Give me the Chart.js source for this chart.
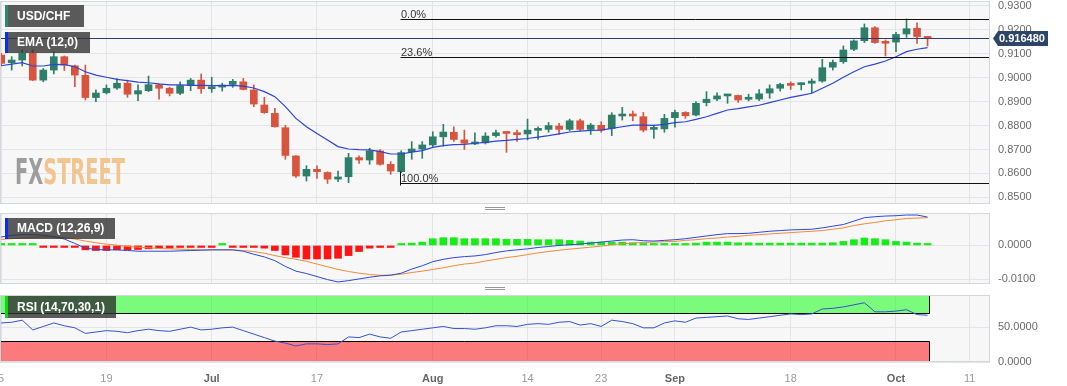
<!DOCTYPE html>
<html>
<head>
<meta charset="utf-8">
<title>USD/CHF</title>
<script src="https://cdn.jsdelivr.net/npm/chart.js"></script>
<style>
  body { margin: 0; background: #fff; }
  #wrap { position: relative; width: 1067px; height: 386px; overflow: hidden; font-family: "Liberation Sans", Arial, sans-serif; }
  #wrap canvas { position: absolute; left: 0; top: 0; }
  .tag { position: absolute; left: 5px; height: 21px; line-height: 21px; padding-left: 9px; box-sizing: border-box;
         background: rgba(50, 50, 50, 0.8); color: #fff; font-size: 12px; font-weight: bold; white-space: nowrap; }
  .grip { position: absolute; left: 485px; width: 20px; height: 1px; border-top: 1px solid #999; border-bottom: 1px solid #999; }
  #logo { position: absolute; left: 15px; top: 154px; font: bold 36px "Liberation Sans Narrow", "DejaVu Sans Condensed", sans-serif;
          line-height: 36px; white-space: nowrap; transform-origin: 0 0; }
</style>
</head>
<body>
<div id="wrap">
  <canvas id="main" width="1067" height="386"></canvas>
  <canvas id="macd" width="1067" height="386"></canvas>
  <canvas id="rsi" width="1067" height="386"></canvas>
  <div id="logo"><span style="color:#9d9d9d">FX</span><span style="color:#f2c48f">STREET</span></div>
  <div class="tag" style="top:5px;width:79px;height:22px;line-height:22px;border-left:3px solid #2b8a70">USD/CHF</div>
  <div class="tag" style="top:32px;width:85px;border-left:3px solid #0b2df2">EMA (12,0)</div>
  <div class="tag" style="top:218px;width:110px;border-left:3px solid #0b2df2">MACD (12,26,9)</div>
  <div class="tag" style="top:296px;width:111px;height:22px;line-height:22px;border-left:3px solid #10d810">RSI (14,70,30,1)</div>
  <div class="grip" style="top:207px"></div>
  <div class="grip" style="top:287px"></div>
</div>
<script>
// one entry per trading day, index 0 = Jun 5
const opens = [0.9095, 0.9063, 0.9074, 0.9102, 0.8990, 0.9032, 0.9088, 0.9050, 0.9010, 0.8917,
  0.8937, 0.8957, 0.8977, 0.8932, 0.8946, 0.8970, 0.8956, 0.8935, 0.8968, 0.8990,
  0.8954, 0.8961, 0.8972, 0.8983, 0.8949, 0.8886, 0.8851, 0.8791, 0.8673, 0.8589,
  0.8617, 0.8604, 0.8576, 0.8586, 0.8666, 0.8656, 0.8694, 0.8638, 0.8607, 0.8691,
  0.8702, 0.8719, 0.8753, 0.8772, 0.8740, 0.8723, 0.8728, 0.8758, 0.8772, 0.8766,
  0.8765, 0.8780, 0.8784, 0.8798, 0.8784, 0.8820, 0.8784, 0.8801, 0.8788, 0.8840,
  0.8845, 0.8837, 0.8784, 0.8786, 0.8833, 0.8855, 0.8844, 0.8896, 0.8911, 0.8924,
  0.8926, 0.8910, 0.8911, 0.8936, 0.8956, 0.8972, 0.8971, 0.8977, 0.8986, 0.9044,
  0.9067, 0.9119, 0.9155, 0.9209, 0.9148, 0.9149, 0.9183, 0.9207, 0.9169];
const highs = [0.9102, 0.9088, 0.9116, 0.9116, 0.9039, 0.9109, 0.9091, 0.9053, 0.9053, 0.8949,
  0.8970, 0.8997, 0.8990, 0.8970, 0.9007, 0.8974, 0.8960, 0.8983, 0.8997, 0.9016,
  0.9002, 0.8977, 0.8993, 0.8997, 0.8970, 0.8918, 0.8872, 0.8801, 0.8675, 0.8632,
  0.8632, 0.8607, 0.8610, 0.8684, 0.8673, 0.8705, 0.8700, 0.8649, 0.8695, 0.8733,
  0.8733, 0.8774, 0.8805, 0.8795, 0.8781, 0.8770, 0.8770, 0.8781, 0.8774, 0.8781,
  0.8827, 0.8795, 0.8813, 0.8809, 0.8827, 0.8827, 0.8809, 0.8816, 0.8854, 0.8876,
  0.8861, 0.8855, 0.8802, 0.8847, 0.8865, 0.8858, 0.8900, 0.8942, 0.8937, 0.8928,
  0.8928, 0.8931, 0.8951, 0.8970, 0.8977, 0.8983, 0.8979, 0.8995, 0.9077, 0.9074,
  0.9133, 0.9158, 0.9225, 0.9214, 0.9158, 0.9190, 0.9246, 0.9230, 0.9172];
const lows = [0.9053, 0.9032, 0.9049, 0.8988, 0.8983, 0.9016, 0.9030, 0.8963, 0.8907, 0.8900,
  0.8932, 0.8951, 0.8918, 0.8904, 0.8942, 0.8910, 0.8924, 0.8929, 0.8946, 0.8935,
  0.8939, 0.8944, 0.8960, 0.8949, 0.8879, 0.8851, 0.8793, 0.8659, 0.8583, 0.8568,
  0.8579, 0.8558, 0.8565, 0.8561, 0.8642, 0.8638, 0.8634, 0.8596, 0.8603, 0.8659,
  0.8663, 0.8712, 0.8714, 0.8734, 0.8700, 0.8720, 0.8723, 0.8751, 0.8688, 0.8734,
  0.8740, 0.8742, 0.8772, 0.8763, 0.8779, 0.8779, 0.8763, 0.8772, 0.8758, 0.8823,
  0.8820, 0.8774, 0.8746, 0.8772, 0.8793, 0.8830, 0.8840, 0.8882, 0.8904, 0.8893,
  0.8897, 0.8903, 0.8904, 0.8914, 0.8944, 0.8951, 0.8949, 0.8937, 0.8981, 0.9032,
  0.9060, 0.9113, 0.9147, 0.9144, 0.9091, 0.9109, 0.9169, 0.9144, 0.9133];
const closes = [0.9060, 0.9074, 0.9102, 0.8990, 0.9032, 0.9088, 0.9053, 0.9011, 0.8917, 0.8936,
  0.8956, 0.8977, 0.8931, 0.8946, 0.8971, 0.8956, 0.8935, 0.8967, 0.8990, 0.8954,
  0.8960, 0.8968, 0.8985, 0.8951, 0.8890, 0.8854, 0.8795, 0.8675, 0.8589, 0.8617,
  0.8607, 0.8576, 0.8585, 0.8666, 0.8656, 0.8694, 0.8638, 0.8610, 0.8687, 0.8702,
  0.8719, 0.8753, 0.8773, 0.8742, 0.8726, 0.8728, 0.8756, 0.8770, 0.8767, 0.8762,
  0.8781, 0.8784, 0.8800, 0.8784, 0.8820, 0.8784, 0.8802, 0.8781, 0.8844, 0.8844,
  0.8840, 0.8781, 0.8791, 0.8830, 0.8855, 0.8841, 0.8893, 0.8910, 0.8924, 0.8926,
  0.8907, 0.8912, 0.8933, 0.8954, 0.8972, 0.8968, 0.8974, 0.8986, 0.9042, 0.9064,
  0.9116, 0.9154, 0.9209, 0.9147, 0.9144, 0.9181, 0.9205, 0.9172, 0.91648];
const ema = [0.9050, 0.9057, 0.9063, 0.9049, 0.9049, 0.9056, 0.9055, 0.9046, 0.9025, 0.9011,
  0.9002, 0.8993, 0.8988, 0.8982, 0.8979, 0.8974, 0.8970, 0.8970, 0.8968, 0.8968,
  0.8967, 0.8967, 0.8968, 0.8965, 0.8957, 0.8942, 0.8921, 0.8879, 0.8830, 0.8795,
  0.8767, 0.8740, 0.8712, 0.8702, 0.8699, 0.8698, 0.8691, 0.8681, 0.8681, 0.8689,
  0.8695, 0.8709, 0.8716, 0.8720, 0.8721, 0.8726, 0.8730, 0.8735, 0.8738, 0.8742,
  0.8746, 0.8752, 0.8758, 0.8765, 0.8773, 0.8777, 0.8780, 0.8781, 0.8788, 0.8795,
  0.8802, 0.8802, 0.8801, 0.8805, 0.8812, 0.8816, 0.8826, 0.8837, 0.8851, 0.8865,
  0.8871, 0.8878, 0.8885, 0.8896, 0.8907, 0.8918, 0.8926, 0.8935, 0.8956, 0.8977,
  0.9002, 0.9025, 0.9046, 0.9057, 0.9070, 0.9088, 0.9109, 0.9119, 0.9126];
const macd = [0.0025, 0.0030, 0.0032, 0.0032, 0.0030, 0.0026, 0.0019, 0.0006, -0.0008, -0.0012,
  -0.0013, -0.0013, -0.0015, -0.0017, -0.0017, -0.0017, -0.0017, -0.0016, -0.0015, -0.0014,
  -0.0013, -0.0013, -0.0013, -0.0017, -0.0026, -0.0034, -0.0045, -0.0062, -0.0076, -0.0083,
  -0.0092, -0.0101, -0.0108, -0.0104, -0.0099, -0.0094, -0.0090, -0.0088, -0.0082, -0.0070,
  -0.0060, -0.0048, -0.0041, -0.0036, -0.0033, -0.0031, -0.0027, -0.0021, -0.0016, -0.0013,
  -0.0010, -0.0006, -0.0003, 0.0000, 0.0002, 0.0004, 0.0007, 0.0010, 0.0013, 0.0016,
  0.0017, 0.0014, 0.0013, 0.0015, 0.0017, 0.0020, 0.0024, 0.0028, 0.0032, 0.0035,
  0.0035, 0.0036, 0.0039, 0.0042, 0.0044, 0.0046, 0.0047, 0.0048, 0.0052, 0.0057,
  0.0062, 0.0072, 0.0082, 0.0085, 0.0087, 0.0088, 0.0090, 0.0090, 0.0084];
const signal = [0.0018, 0.0020, 0.0022, 0.0024, 0.0025, 0.0025, 0.0023, 0.0019, 0.0013, 0.0008,
  0.0004, 0.0001, -0.0003, -0.0005, -0.0007, -0.0009, -0.0010, -0.0011, -0.0012, -0.0013,
  -0.0013, -0.0013, -0.0013, -0.0015, -0.0018, -0.0023, -0.0030, -0.0036, -0.0041, -0.0047,
  -0.0055, -0.0063, -0.0071, -0.0077, -0.0082, -0.0086, -0.0088, -0.0088, -0.0085, -0.0080,
  -0.0076, -0.0071, -0.0066, -0.0060, -0.0055, -0.0052, -0.0046, -0.0041, -0.0036, -0.0032,
  -0.0027, -0.0022, -0.0018, -0.0014, -0.0011, -0.0008, -0.0005, -0.0002, 0.0002, 0.0005,
  0.0007, 0.0009, 0.0010, 0.0011, 0.0012, 0.0015, 0.0017, 0.0020, 0.0022, 0.0025,
  0.0027, 0.0030, 0.0032, 0.0034, 0.0036, 0.0038, 0.0040, 0.0042, 0.0044, 0.0048,
  0.0052, 0.0059, 0.0064, 0.0068, 0.0073, 0.0076, 0.0080, 0.0081, 0.0082];
const hist = [0.0003, 0.0003, 0.0003, 0.0001, -0.0001, -0.0001, -0.0001, -0.0003, -0.0013, -0.0015,
  -0.0015, -0.0013, -0.0013, -0.0012, -0.0010, -0.0008, -0.0008, -0.0006, -0.0005, -0.0004,
  -0.0003, 0.0001, -0.0001, -0.0002, -0.0005, -0.0008, -0.0015, -0.0028, -0.0035, -0.0040,
  -0.0040, -0.0040, -0.0038, -0.0030, -0.0018, -0.0008, -0.0006, -0.0002, 0.0001, 0.0007,
  0.0010, 0.0020, 0.0023, 0.0023, 0.0020, 0.0020, 0.0020, 0.0020, 0.0018, 0.0018,
  0.0018, 0.0017, 0.0017, 0.0017, 0.0015, 0.0013, 0.0010, 0.0010, 0.0010, 0.0010,
  0.0008, 0.0005, 0.0003, 0.0003, 0.0003, 0.0005, 0.0007, 0.0010, 0.0010, 0.0010,
  0.0008, 0.0008, 0.0007, 0.0007, 0.0007, 0.0007, 0.0007, 0.0007, 0.0007, 0.0008,
  0.0012, 0.0017, 0.0022, 0.0020, 0.0017, 0.0012, 0.0010, 0.0007, 0.0003];
const rsi = [56, 57, 60, 46, 51, 56, 52, 49, 41, 43,
  45, 44, 42, 45, 47, 45, 44, 47, 50, 46,
  47, 49, 50, 45, 40, 35, 30, 27, 23, 26,
  26, 25, 26, 36, 35, 40, 36, 34, 43, 45,
  47, 49, 51, 48, 48, 47, 49, 52, 52, 51,
  54, 55, 54, 57, 58, 53, 55, 51, 60, 58,
  55, 49, 49, 56, 59, 57, 63, 64, 65, 66,
  62, 61, 63, 65, 67, 69, 68, 69, 76, 77,
  79, 82, 85, 72, 72, 73, 75, 68, 67];

// date axis: trading-day index -> label
const tickIdx = [0, 10, 20, 30, 41, 50, 57, 64, 75, 85, 92];
const tickLabels = ['5', '19', 'Jul', '17', 'Aug', '14', '23', 'Sep', '18', 'Oct', '11'];
const months = ['Jul', 'Aug', 'Sep', 'Oct'];

// fibonacci retracement drawn from the July low to the October high
const fibHigh = 0.9247;
const fibLow = 0.8560;
const fibRatios = [0, 0.236, 1];
const fibStart = 37.9;
const rsiUpper = 70, rsiLower = 30;
const lastPrice = closes[closes.length - 1];

const GREEN = '#2e7f69', RED = '#d8543f';
const FONT = '"Liberation Sans", Arial, sans-serif';
const GRID = '#e3e4e8';
const AXIS_W = 77;

const idx = closes.map((c, i) => i);
const candleColor = closes.map((c, i) => c >= opens[i] ? GREEN : RED);
const histColor = hist.map(v => v >= 0 ? '#14ee14' : '#ff1414');
const pts = arr => arr.map((v, i) => ({ x: i, y: v }));

function xAxis(showLabels) {
    return {
        type: 'linear', min: -0.11, max: 93.93, offset: false,
        grid: { color: GRID, drawTicks: false, offset: false },
        border: { display: false },
        afterBuildTicks: s => { s.ticks = tickIdx.map(v => ({ value: v })); },
        ticks: {
            display: showLabels, padding: 10, autoSkip: false, maxRotation: 0,
            callback: (v, i) => tickLabels[i],
            color: c => months.includes(tickLabels[c.index]) ? '#666' : '#9a9a9a',
            font: c => ({ family: FONT, size: 11, weight: months.includes(tickLabels[c.index]) ? 'bold' : 'normal' })
        },
        afterFit: s => { s.height = showLabels ? 24 : 0; s.paddingLeft = 0; s.paddingRight = 0; }
    };
}

function yAxis(min, max, ticks) {
    return {
        position: 'right', min: min, max: max,
        grid: { color: GRID, drawTicks: false },
        border: { display: false },
        afterBuildTicks: s => { s.ticks = ticks.map(v => ({ value: v })); },
        ticks: { padding: 8, color: '#6b6b6b', font: { family: FONT, size: 11 }, callback: v => v.toFixed(4) },
        afterFit: s => { s.width = AXIS_W; s.paddingTop = 0; s.paddingBottom = 0; }
    };
}

function options(padTop, padBottom, y, showLabels) {
    return {
        responsive: false, animation: false, events: [], devicePixelRatio: 1,
        layout: { padding: { top: padTop, bottom: padBottom, left: 0, right: 0 } },
        plugins: { legend: { display: false }, tooltip: { enabled: false } },
        scales: { x: xAxis(showLabels), y: y }
    };
}

// plot background and frame
const panel = {
    id: 'panel',
    beforeDraw(chart) {
        const a = chart.chartArea, ctx = chart.ctx;
        ctx.save();
        ctx.fillStyle = '#f7f7f8';
        ctx.fillRect(a.left, a.top, a.right - a.left, a.bottom - a.top);
        ctx.restore();
    },
    afterDraw(chart) {
        const a = chart.chartArea, ctx = chart.ctx;
        ctx.save();
        ctx.strokeStyle = '#d3d7de';
        ctx.lineWidth = 1;
        ctx.strokeRect(a.left + 0.5, a.top + 0.5, a.right - a.left - 1, a.bottom - a.top - 1);
        ctx.restore();
    }
};

// fibonacci levels, current price line and price tag
const levels = {
    id: 'levels',
    afterDatasetsDraw(chart) {
        const { ctx, chartArea: a, scales: { x, y } } = chart;
        ctx.save();
        ctx.lineWidth = 1;
        const py = Math.round(y.getPixelForValue(lastPrice)) + 0.5;
        ctx.strokeStyle = '#2c3d6e';
        ctx.beginPath(); ctx.moveTo(a.left, py); ctx.lineTo(a.right, py); ctx.stroke();

        const fx = Math.round(x.getPixelForValue(fibStart)) + 0.5;
        ctx.strokeStyle = '#111';
        ctx.fillStyle = '#333';
        ctx.font = '11px ' + FONT;
        ctx.textBaseline = 'alphabetic';
        fibRatios.forEach(r => {
            const ly = Math.round(y.getPixelForValue(fibHigh - r * (fibHigh - fibLow))) + 0.5;
            ctx.beginPath(); ctx.moveTo(fx, ly); ctx.lineTo(a.right, ly); ctx.stroke();
            ctx.fillText((r * 100).toFixed(1) + '%', fx + 0.5, ly - 1.5);
        });
        const lowY = Math.round(y.getPixelForValue(fibLow)) + 0.5;
        ctx.beginPath(); ctx.moveTo(fx, lowY - 12); ctx.lineTo(fx, lowY + 2); ctx.stroke();
        ctx.restore();
    },
    afterDraw(chart) {
        const { ctx, chartArea: a, scales: { y } } = chart;
        const py = Math.round(y.getPixelForValue(lastPrice));
        ctx.save();
        ctx.fillStyle = '#2d4566';
        ctx.beginPath();
        ctx.moveTo(a.right + 3, py + 0.5);
        ctx.lineTo(a.right + 8, py - 7);
        ctx.lineTo(a.right + 58, py - 7);
        ctx.lineTo(a.right + 58, py + 8);
        ctx.lineTo(a.right + 8, py + 8);
        ctx.closePath();
        ctx.fill();
        ctx.fillStyle = '#fff';
        ctx.font = 'bold 11px ' + FONT;
        ctx.textBaseline = 'middle';
        ctx.fillText(lastPrice.toFixed(6), a.right + 9, py + 1);
        ctx.restore();
    }
};

// overbought / oversold bands
const bands = {
    id: 'bands',
    beforeDatasetsDraw(chart) {
        const { ctx, chartArea: a, scales: { x, y } } = chart;
        const xr = Math.round(x.getPixelForValue(idx.length - 1 + 0.15)) + 0.5;
        const y70 = Math.round(y.getPixelForValue(rsiUpper)) + 0.5;
        const y30 = Math.round(y.getPixelForValue(rsiLower)) + 0.5;
        ctx.save();
        ctx.fillStyle = 'rgba(0, 255, 0, 0.5)';
        ctx.fillRect(a.left, a.top, xr - a.left, y70 - a.top);
        ctx.fillStyle = 'rgba(255, 0, 0, 0.5)';
        ctx.fillRect(a.left, y30, xr - a.left, a.bottom - y30);
        ctx.strokeStyle = '#000';
        ctx.lineWidth = 1;
        ctx.beginPath();
        ctx.moveTo(a.left, y70); ctx.lineTo(xr, y70); ctx.lineTo(xr, a.top);
        ctx.moveTo(a.left, y30); ctx.lineTo(xr, y30); ctx.lineTo(xr, a.bottom);
        ctx.stroke();
        ctx.restore();
    }
};

new Chart(document.getElementById('main'), {
    type: 'bar',
    data: {
        datasets: [
            {
                data: idx.map(i => ({ x: i, y: [lows[i], highs[i]] })),
                backgroundColor: candleColor, barThickness: 1, grouped: false, order: 3
            },
            {
                data: idx.map(i => ({ x: i, y: [opens[i], closes[i]] })),
                backgroundColor: candleColor, barThickness: 7, minBarLength: 2, grouped: false, order: 2
            },
            {
                type: 'line', data: pts(ema), borderColor: '#2c44d4', borderWidth: 1.2,
                pointRadius: 0, tension: 0, order: 1
            }
        ]
    },
    options: options(1, 182, yAxis(0.8472, 0.93209, [0.85, 0.86, 0.87, 0.88, 0.89, 0.90, 0.91, 0.92, 0.93]), false),
    plugins: [panel, levels]
});

new Chart(document.getElementById('macd'), {
    type: 'bar',
    data: {
        datasets: [
            {
                data: pts(hist), backgroundColor: histColor, barThickness: 7, minBarLength: 2,
                grouped: false, order: 3
            },
            {
                type: 'line', data: pts(signal), borderColor: '#f08a3a', borderWidth: 1,
                pointRadius: 0, tension: 0, order: 2
            },
            {
                type: 'line', data: pts(macd), borderColor: '#2c48d6', borderWidth: 1,
                pointRadius: 0, tension: 0, order: 1
            }
        ]
    },
    options: options(213, 102, yAxis(-0.0114, 0.0096, [-0.01, 0]), false),
    plugins: [panel]
});

new Chart(document.getElementById('rsi'), {
    type: 'line',
    data: {
        datasets: [{
            data: pts(rsi), borderColor: '#3553cf', borderWidth: 1, pointRadius: 0, tension: 0
        }]
    },
    options: options(295, 0, yAxis(0, 96.1, [0, 50]), true),
    plugins: [panel, bands]
});

// squeeze the watermark to its width in the reference
const logo = document.getElementById('logo');
const logoW = logo.getBoundingClientRect().width;
logo.style.transform = 'scaleX(' + (110 / logoW) + ')';
</script>
</body>
</html>
